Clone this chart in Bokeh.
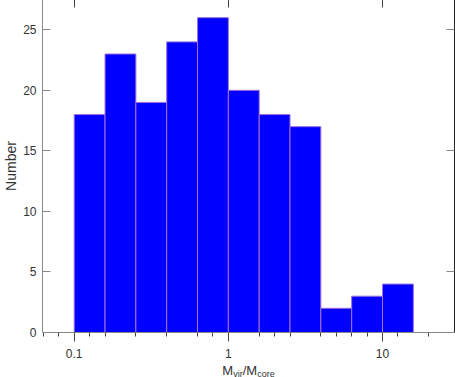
import math
from bokeh.plotting import figure
from bokeh.layouts import column
from bokeh.models import Range1d, FixedTicker, LogAxis, LinearAxis
from bokeh.core.properties import value
from bokeh.embed import file_html
from bokeh.resources import INLINE

# ---- data ----
bin_edges = [0.1, 0.1585, 0.2512, 0.3981, 0.631, 1.0, 1.585, 2.512, 3.981, 6.31, 10.0, 15.85]
counts = [18, 23, 19, 24, 26, 20, 18, 17, 2, 3, 4]
x_major_ticks = [0.1, 1, 10]
x_tick_labels = ["0.1", "1", "10"]
x_minor_exps = [-1.2, -1.1, -0.9, -0.8, -0.6, -0.4, -0.2, -0.1,
                0.2, 0.3, 0.4, 0.6, 0.7, 0.8, 0.9, 1.1, 1.3]
y_ticks = [0, 5, 10, 15, 20, 25]
right_ticks = [5, 15, 25]
y_label = "Number"
x_label_parts = ["M", "vir", "/M", "core"]

FONT = "Liberation Sans"
W = 455
x0, x1 = 0.06227, 29.31
y1 = 27.5
BL, BR = 42, 1

p = figure(width=W, height=362, x_axis_type="log",
           x_range=Range1d(x0, x1), y_range=Range1d(0, y1),
           output_backend="svg", toolbar_location=None,
           min_border_left=BL, min_border_right=BR, min_border_top=0, min_border_bottom=29,
           outline_line_color=None)

p.quad(left=bin_edges[:-1], right=bin_edges[1:], bottom=0, top=counts,
       fill_color="#0000FF", line_color="#A070D8", line_width=1)

p.xgrid.visible = False
p.ygrid.visible = False

xa = p.xaxis[0]
xa.ticker = FixedTicker(ticks=x_major_ticks, minor_ticks=[10 ** e for e in x_minor_exps])
xa.major_label_overrides = dict(zip(x_major_ticks, x_tick_labels))
xa.major_tick_in = 0
xa.major_tick_out = 9
xa.minor_tick_in = 0
xa.minor_tick_out = 4
xa.axis_line_color = "#888888"
xa.major_tick_line_color = "#444444"
xa.minor_tick_line_color = "#444444"
xa.major_label_text_font = FONT
xa.major_label_text_font_size = "12px"
xa.major_label_text_color = "#333333"
xa.major_label_standoff = 7

ya = p.yaxis[0]
ya.ticker = FixedTicker(ticks=y_ticks, minor_ticks=[])
ya.major_tick_in = 8
ya.major_tick_out = 0
ya.minor_tick_in = 0
ya.minor_tick_out = 0
ya.axis_line_color = "#888888"
ya.major_tick_line_color = "#888888"
ya.major_label_text_font = FONT
ya.major_label_text_font_size = "12px"
ya.major_label_text_color = "#333333"
ya.major_label_standoff = 6
ya.axis_label = y_label
ya.axis_label_text_font = FONT
ya.axis_label_text_font_size = "14px"
ya.axis_label_text_font_style = "normal"
ya.axis_label_text_color = "#333333"
ya.axis_label_standoff = 1

ra = LinearAxis(ticker=FixedTicker(ticks=right_ticks, minor_ticks=[]),
                major_tick_in=8, major_tick_out=0, minor_tick_in=0, minor_tick_out=0,
                axis_line_color="#222222", major_tick_line_color="#888888",
                major_label_overrides={t: "" for t in right_ticks}, major_label_standoff=0)
p.add_layout(ra, "right")

ta = LogAxis(ticker=FixedTicker(ticks=x_major_ticks, minor_ticks=[]),
             major_tick_in=8, major_tick_out=0, minor_tick_in=0, minor_tick_out=0,
             axis_line_color="#222222", major_tick_line_color="#444444",
             major_label_overrides={t: "" for t in x_major_ticks}, major_label_standoff=0)
p.add_layout(ta, "above")

# x-axis title with subscripts, drawn as text pieces in a thin strip below
# (the strip's frame is aligned with the main frame, so its x range spans BL..W-BR)
H2 = 16
q = figure(width=W, height=H2, x_range=Range1d(BL, W - BR), y_range=Range1d(0, H2),
           output_backend="svg", toolbar_location=None,
           x_axis_location=None, y_axis_location=None,
           min_border_left=0, min_border_right=0, min_border_top=0, min_border_bottom=0,
           outline_line_color=None)
q.grid.visible = False

sizes = [13, 9, 13, 9]
widths = [0.833, 1.055, 1.111, 1.945]
total = sum(w * s for w, s in zip(widths, sizes))
cx = BL + (W - BL - BR) / 2
xs, ys, fs, ts = [], [], [], []
pos = cx - total / 2
for txt, s, w in zip(x_label_parts, sizes, widths):
    xs.append(pos)
    ys.append(7 if s == 13 else 4)
    fs.append(f"{s}px")
    ts.append(txt)
    pos += w * s
q.text(x=xs, y=ys, text=ts, text_font=value(FONT), text_font_size=fs,
       text_color="#333333", text_align="left", text_baseline="alphabetic")

layout = column(p, q, spacing=0, styles={"margin-top": "-1px"})
open("out.html", "w").write(file_html(layout, INLINE))
